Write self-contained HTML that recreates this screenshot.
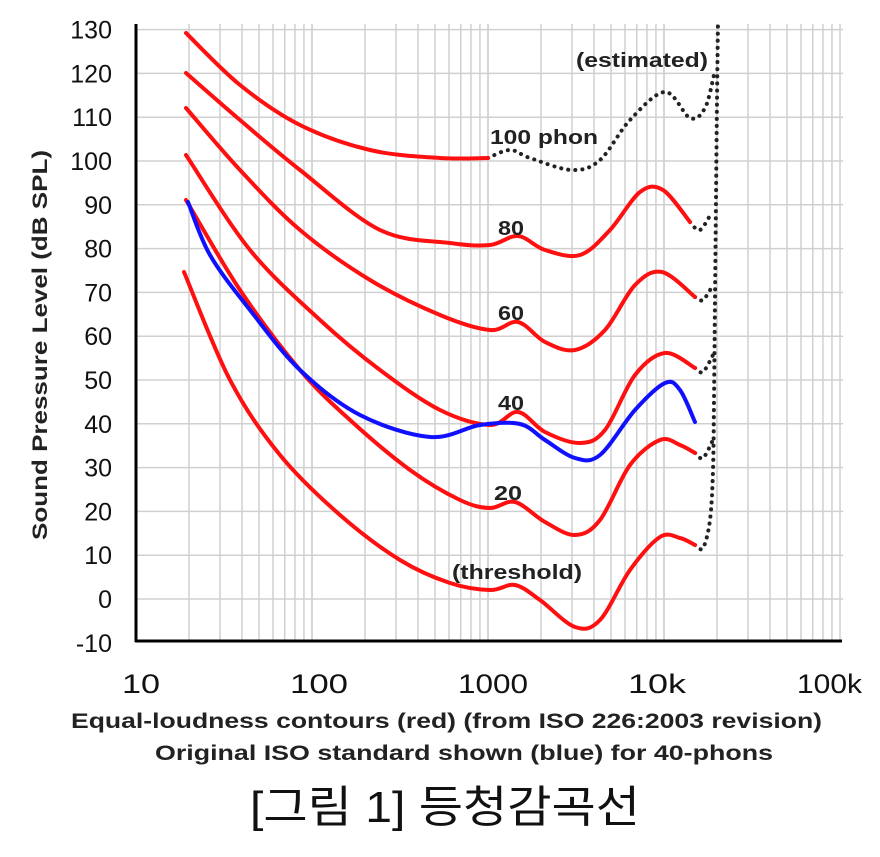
<!DOCTYPE html>
<html><head><meta charset="utf-8"><style>
body{margin:0;background:#fff;width:880px;height:852px;overflow:hidden}
text{font-family:"Liberation Sans",sans-serif}
</style></head><body>
<svg width="880" height="852" viewBox="0 0 880 852" xmlns="http://www.w3.org/2000/svg">
<g id="grid" stroke="#d0d0d0" stroke-width="1.5"></g>
<g id="lines"></g>
<line x1="136" y1="24" x2="136" y2="642" stroke="#000" stroke-width="3"/>
<line x1="135" y1="641" x2="842" y2="641" stroke="#000" stroke-width="3"/>
<g id="ylab" font-size="25" text-anchor="end" fill="#111"></g>
<g font-size="27" fill="#111" lengthAdjust="spacingAndGlyphs">
<text x="122" y="693" textLength="38" lengthAdjust="spacingAndGlyphs">10</text><text x="290" y="693" textLength="58" lengthAdjust="spacingAndGlyphs">100</text><text x="458" y="693" textLength="70" lengthAdjust="spacingAndGlyphs">1000</text><text x="628" y="693" textLength="58" lengthAdjust="spacingAndGlyphs">10k</text><text x="797" y="693" textLength="65" lengthAdjust="spacingAndGlyphs">100k</text>
</g>
<text transform="translate(47,540) rotate(-90)" font-size="21" font-weight="bold" fill="#222" textLength="390" lengthAdjust="spacingAndGlyphs">Sound Pressure Level (dB SPL)</text>
<g font-size="21" font-weight="bold" fill="#222">
<text x="71" y="728" textLength="751" lengthAdjust="spacingAndGlyphs">Equal-loudness contours (red) (from ISO 226:2003 revision)</text>
<text x="155" y="760" textLength="618" lengthAdjust="spacingAndGlyphs">Original ISO standard shown (blue) for 40-phons</text>
</g>
<text x="250" y="822" font-size="44" fill="#111" textLength="390" lengthAdjust="spacingAndGlyphs" style="font-family:'Liberation Sans','Noto Sans CJK KR',sans-serif">[그림 1] 등청감곡선</text>
<g font-size="20" font-weight="bold" fill="#222">
<text x="576" y="67" textLength="132" lengthAdjust="spacingAndGlyphs">(estimated)</text>
<text x="490" y="144" textLength="108" lengthAdjust="spacingAndGlyphs">100 phon</text>
<text x="498" y="235" textLength="26" lengthAdjust="spacingAndGlyphs">80</text>
<text x="498" y="320" textLength="26" lengthAdjust="spacingAndGlyphs">60</text>
<text x="498" y="410" textLength="26" lengthAdjust="spacingAndGlyphs">40</text>
<text x="494" y="500" textLength="28" lengthAdjust="spacingAndGlyphs">20</text>
<text x="452" y="579" textLength="130" lengthAdjust="spacingAndGlyphs">(threshold)</text>
</g>
</svg>
<script>
const ns="http://www.w3.org/2000/svg";
const g=document.getElementById('grid');
const X=f=>136+176*Math.log10(f/10);
const Y=d=>599-4.38*d;
for(let dec=10;dec<=10000;dec*=10)for(let m=1;m<=10;m++){const x=X(dec*m);if(x>843)continue;const l=document.createElementNS(ns,'line');l.setAttribute('x1',x);l.setAttribute('x2',x);l.setAttribute('y1',24);l.setAttribute('y2',641);g.appendChild(l);}
const yl=document.getElementById('ylab');
for(let d=-10;d<=130;d+=10){const y=Y(d);if(d>-10){const l=document.createElementNS(ns,'line');l.setAttribute('x1',136);l.setAttribute('x2',843);l.setAttribute('y1',y);l.setAttribute('y2',y);g.appendChild(l);}
const t=document.createElementNS(ns,'text');t.setAttribute('x',112);t.setAttribute('y',y+9);t.textContent=d;yl.appendChild(t);}
function path(p){let s=`M${p[0][0]},${p[0][1]}`;for(let i=0;i<p.length-1;i++){const p0=p[i-1]||p[i],p1=p[i],p2=p[i+1],p3=p[i+2]||p2;
s+=` C${p1[0]+(p2[0]-p0[0])/6},${p1[1]+(p2[1]-p0[1])/6} ${p2[0]-(p3[0]-p1[0])/6},${p2[1]-(p3[1]-p1[1])/6} ${p2[0]},${p2[1]}`;}return s;}
const L=document.getElementById('lines');
function add(p,c,w,dash){const e=document.createElementNS(ns,'path');e.setAttribute('d',path(p));e.setAttribute('fill','none');e.setAttribute('stroke',c);e.setAttribute('stroke-width',w);e.setAttribute('stroke-linecap','round');if(dash)e.setAttribute('stroke-dasharray',dash);L.appendChild(e);}
const dot=['#222',4,'0.1 7'];
add([[695,545],[703,548],[710,520],[713,470],[714,400],[715,300],[716,200],[717,100],[718,20]],...dot);
add([[488,158],[510,150],[530,158],[572,170],[600,160],[630,120],[665,92],[690,118],[705,108],[714,75]],...dot);
add([[690,222],[700,230],[712,212]],...dot);
add([[695,297],[703,300],[713,285]],...dot);
add([[695,368],[703,372],[713,355]],...dot);
add([[695,453],[703,458],[713,440]],...dot);
const R='#ff1010';
add([[184,272],[230,380],[280,455],[340,515],[400,560],[450,583],[490,590],[515,585],[540,600],[575,627],[600,620],[630,570],[660,537],[680,538],[695,545]],R,4);
add([[186,200],[240,290],[300,370],[350,420],[410,470],[460,500],[490,508],[515,502],[545,522],[575,535],[600,520],[630,465],[660,440],[680,445],[695,453]],R,4);
add([[186,155],[250,250],[320,320],[380,370],[440,410],[490,425],[518,412],[545,432],[580,443],[605,430],[635,375],[665,353],[695,368]],R,4);
add([[186,108],[240,170],[300,230],[370,280],[440,315],[490,330],[518,322],[545,342],[575,350],[605,330],[635,285],[662,272],[695,297]],R,4);
add([[186,73],[240,120],[300,170],[380,230],[450,243],[490,245],[518,236],[545,250],[580,255],[610,230],[640,192],[663,190],[690,222]],R,4);
add([[186,33],[240,85],[300,125],[370,150],[440,158],[488,158]],R,4);
add([[188,202],[210,255],[250,310],[300,370],[360,415],[430,437],[480,425],[520,424],[545,440],[575,458],[600,455],[635,410],[665,383],[680,390],[695,422]],'#1010ff',4);
</script>
</body></html>
